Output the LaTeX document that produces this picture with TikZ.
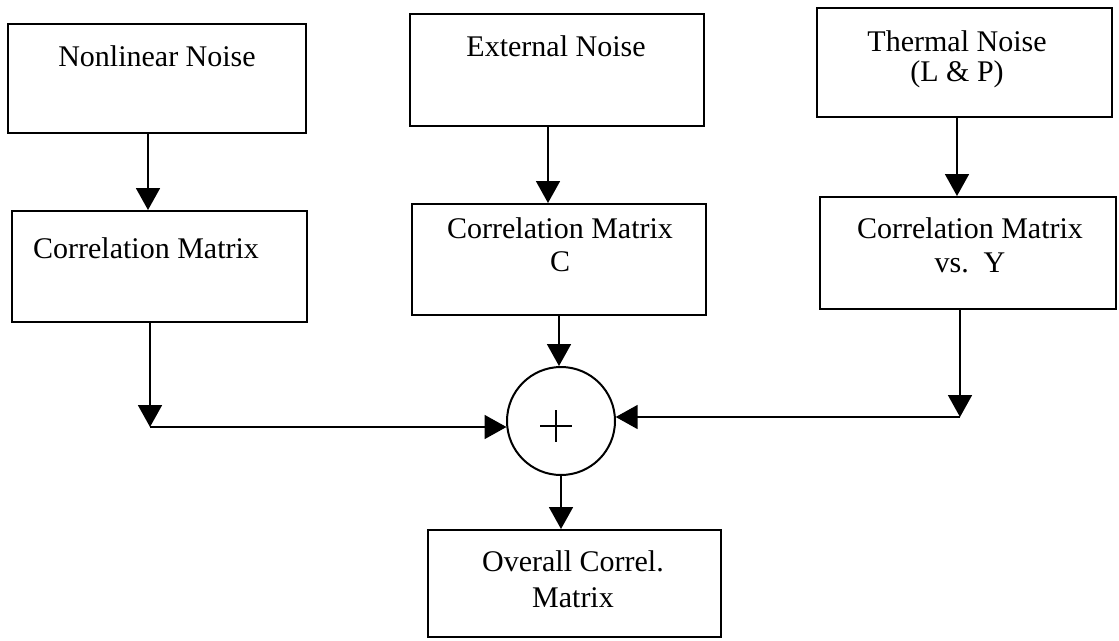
\documentclass[tikz,border=0pt]{standalone}
\usepackage{fontspec}
\setmainfont{Liberation Serif}
\usetikzlibrary{arrows.meta,calc}
\tikzset{
  box/.style={draw=black, line width=2pt, rectangle, inner sep=0pt},
  txt/.style={inner sep=0pt, anchor=north, align=center, font=\fontsize{30}{33}\selectfont},
  arr/.style={draw=black, line width=1.8pt, -{Triangle[width=24pt,length=22pt]}},
}
\begin{document}
\begin{tikzpicture}[x=1pt,y=-1pt]
\useasboundingbox (0,0) rectangle (1119,640);
% boxes
\node[box, minimum width=298pt, minimum height=109pt] (nl) at (157,78.5) {};
\node[box, minimum width=294pt, minimum height=112pt] (ex) at (557,70) {};
\node[box, minimum width=295pt, minimum height=109pt] (th) at (964.5,62.5) {};
\node[box, minimum width=295pt, minimum height=111pt] (cl) at (159.5,266.5) {};
\node[box, minimum width=294pt, minimum height=111pt] (cc) at (559,259.5) {};
\node[box, minimum width=296pt, minimum height=112pt] (cy) at (968,253) {};
\node[box, circle, minimum size=108pt] (sum) at (561,421) {};
\node[box, minimum width=293pt, minimum height=107pt] (ov) at (574.5,583.5) {};
% texts
\node[txt] (nlt) at (157,45) {Nonlinear Noise};
\node[txt] (ext) at (556,35) {External Noise};
\node[txt] (tht) at (957,30) {Thermal Noise\\[-3pt](L \& P)};
\node[txt] (clt) at (146,237) {Correlation Matrix};
\node[txt] (cct) at (560,217) {Correlation Matrix\\C};
\node[txt] (cyt) at (970,217) {Correlation Matrix\\[1pt]vs.\ \ Y};
\node[txt] (ovt) at (573,550) {Overall Correl.\\[3pt]Matrix};
% plus sign
\draw[line width=1.3pt] ($(sum)+(-21,5)$) -- ($(sum)+(11,5)$);
\draw[line width=1.3pt] ($(sum)+(-5,-11)$) -- ($(sum)+(-5,21)$);
% connectors
\coordinate (c1) at (150,427);
\coordinate (c2) at (960,417);
\draw[arr] ([xshift=-9pt]nl.south) -- ([xshift=-9pt]nl.south |- cl.north);
\draw[arr] ([xshift=-9pt]ex.south) -- ([xshift=-9pt]ex.south |- cc.north);
\draw[arr] ([xshift=-7.5pt]th.south) -- ([xshift=-7.5pt]th.south |- cy.north);
\draw[arr] (cl.south -| c1) -- (c1);
\draw[arr] (c1) -- ($(sum.west |- c1)+(0.5,0)$);
\draw[arr] (cy.south -| c2) -- (c2);
\draw[arr] (c2) -- ($(sum.east |- c2)+(-0.3,0)$);
\draw[arr] (cc.south) -- (cc.south |- sum.north);
\draw[arr] (sum.south) -- (sum.south |- ov.north);
\end{tikzpicture}
\end{document}
